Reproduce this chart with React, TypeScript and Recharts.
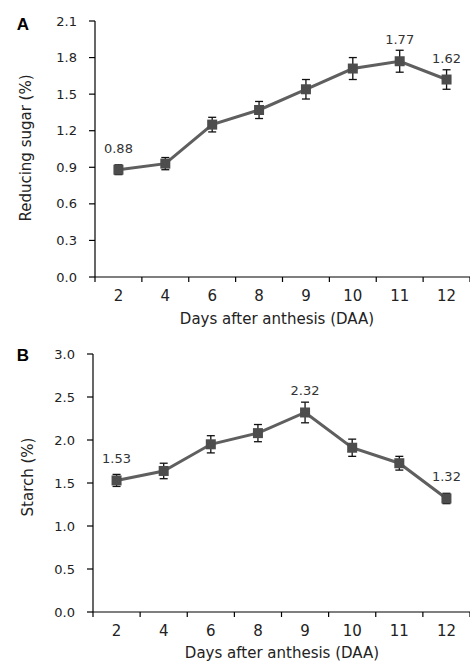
import { LineChart, Line, XAxis, YAxis, ErrorBar, LabelList } from 'recharts';

const days = ['2', '4', '6', '8', '9', '10', '11', '12'];

const sugarValues = [0.88, 0.93, 1.25, 1.37, 1.54, 1.71, 1.77, 1.62];
const sugarErrors = [0.04, 0.05, 0.06, 0.07, 0.08, 0.09, 0.09, 0.08];
const sugarLabels = ['0.88', null, null, null, null, null, '1.77', '1.62'];
const sugarTicks = [0, 0.3, 0.6, 0.9, 1.2, 1.5, 1.8, 2.1];

const starchValues = [1.53, 1.64, 1.95, 2.08, 2.32, 1.91, 1.73, 1.32];
const starchErrors = [0.07, 0.09, 0.1, 0.1, 0.12, 0.1, 0.08, 0.06];
const starchLabels = ['1.53', null, null, null, '2.32', null, null, '1.32'];
const starchTicks = [0, 0.5, 1.0, 1.5, 2.0, 2.5, 3.0];

const boundaryTicks = [0, 1, 2, 3, 4, 5, 6, 7, 8];
const centerTicks = [0.5, 1.5, 2.5, 3.5, 4.5, 5.5, 6.5, 7.5];

const FONT = '"DejaVu Sans", Verdana, sans-serif';

function buildRows(values: number[], errors: number[], labels: (string | null)[]) {
  return days.map((d, i) => ({
    day: d,
    x: i + 0.5,
    value: values[i],
    err: errors[i],
    label: labels[i] ?? undefined,
  }));
}

const SquareDot = (props: any) => {
  const { cx, cy } = props;
  if (cx == null || cy == null) return null;
  return <rect x={cx - 5} y={cy - 5} width={10} height={10} fill="#4d4d4d" />;
};

interface PanelProps {
  rows: ReturnType<typeof buildRows>;
  yTicks: number[];
  yMax: number;
  height: number;
  top: number;
  yAxisWidth: number;
  labelAxisHeight: number;
}

function Panel({ rows, yTicks, yMax, height, top, yAxisWidth, labelAxisHeight }: PanelProps) {
  return (
    <LineChart width={470} height={height} data={rows} margin={{ top, right: 0, bottom: 0, left: 0 }}>
      {/* tick marks at category boundaries (inner axis) */}
      <XAxis
        xAxisId="a"
        type="number"
        dataKey="x"
        domain={[0, 8]}
        ticks={boundaryTicks}
        tickFormatter={() => ''}
        height={5}
        tickSize={5}
        axisLine={{ stroke: '#000', strokeWidth: 1.2 }}
        tickLine={{ stroke: '#000', strokeWidth: 1.2 }}
      />
      {/* day labels at category centres (outer axis) */}
      <XAxis
        xAxisId="b"
        type="number"
        dataKey="x"
        domain={[0, 8]}
        ticks={centerTicks}
        tickFormatter={(v: number) => days[Math.floor(v)]}
        height={labelAxisHeight}
        axisLine={false}
        tickLine={false}
        tickSize={6}
        tickMargin={2}
        tick={{ fill: '#222', fontSize: 15, fontFamily: FONT }}
      />
      <YAxis
        type="number"
        domain={[0, yMax]}
        ticks={yTicks}
        width={yAxisWidth}
        tickFormatter={(v: number) => v.toFixed(1)}
        tickSize={6}
        tickMargin={12}
        axisLine={{ stroke: '#000', strokeWidth: 1.2 }}
        tickLine={{ stroke: '#000', strokeWidth: 1.2 }}
        tick={{ fill: '#222', fontSize: 13, fontFamily: FONT }}
      />
      <Line
        xAxisId="a"
        type="linear"
        dataKey="value"
        stroke="#5f5f5f"
        strokeWidth={3}
        dot={<SquareDot />}
        activeDot={false}
        isAnimationActive={false}
      >
        <ErrorBar dataKey="err" width={4} stroke="#111" strokeWidth={1.3} direction="y" />
        <LabelList
          dataKey="label"
          position="top"
          offset={17}
          style={{ fill: '#333', fontSize: 13, fontFamily: FONT }}
        />
      </Line>
    </LineChart>
  );
}

const abs = (left: number, top: number, extra: React.CSSProperties = {}): React.CSSProperties => ({
  position: 'absolute',
  left,
  top,
  transform: 'translate(-50%, -50%)',
  whiteSpace: 'nowrap',
  fontFamily: FONT,
  color: '#222',
  fontSize: 15,
  lineHeight: 1,
  ...extra,
});

export default function App() {
  const sugarRows = buildRows(sugarValues, sugarErrors, sugarLabels);
  const starchRows = buildRows(starchValues, starchErrors, starchLabels);
  return (
    <div style={{ position: 'absolute', left: 0, top: 0, width: 470, height: 662, background: '#fff' }}>
      <div style={{ position: 'absolute', left: 0, top: 0 }}>
        <Panel rows={sugarRows} yTicks={sugarTicks} yMax={2.1} height={330} top={21} yAxisWidth={95} labelAxisHeight={48} />
      </div>
      <div style={{ position: 'absolute', left: 0, top: 330 }}>
        <Panel rows={starchRows} yTicks={starchTicks} yMax={3.0} height={332} top={24} yAxisWidth={93} labelAxisHeight={45} />
      </div>
      <div style={abs(23, 24, { fontFamily: '"Liberation Sans", Arial, sans-serif', fontWeight: 'bold', fontSize: 17, color: '#000' })}>A</div>
      <div style={abs(23, 355, { fontFamily: '"Liberation Sans", Arial, sans-serif', fontWeight: 'bold', fontSize: 17, color: '#000' })}>B</div>
      <div style={abs(26, 148, { transform: 'translate(-50%, -50%) rotate(-90deg)' })}>Reducing sugar (%)</div>
      <div style={abs(28, 477, { transform: 'translate(-50%, -50%) rotate(-90deg)' })}>Starch (%)</div>
      <div style={abs(277, 319)}>Days after anthesis (DAA)</div>
      <div style={abs(282, 653)}>Days after anthesis (DAA)</div>
    </div>
  );
}
